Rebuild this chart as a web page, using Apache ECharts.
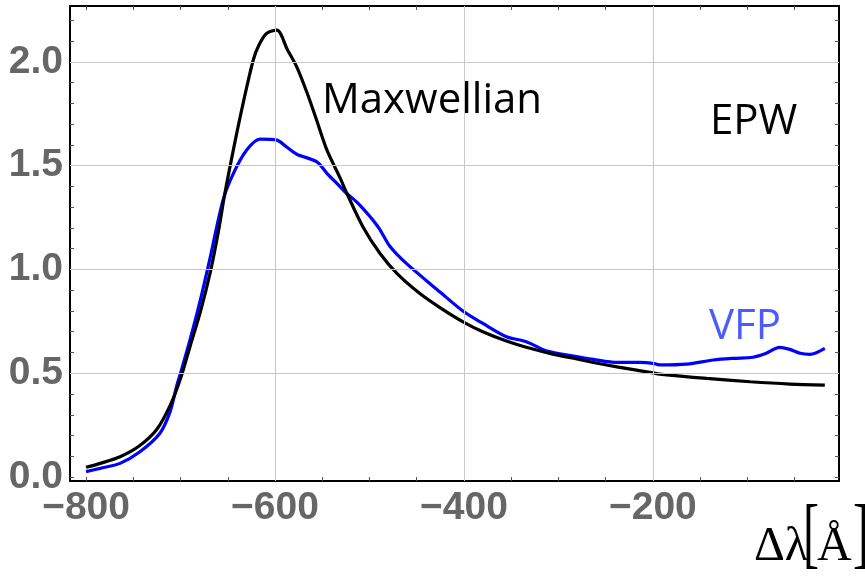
<!DOCTYPE html>
<html><head><meta charset="utf-8">
<script src="https://cdn.jsdelivr.net/npm/echarts@6/dist/echarts.min.js"></script>
<style>html,body{margin:0;padding:0;background:#fff}#c{width:865px;height:576px}</style>
</head><body><div id="c"></div>
<script>
// Data
var maxwellX = [-800,-785,-764,-743,-725,-711,-700,-690,-679,-668,-660,-653,-642,-633,-623,-617,-609,-598,-587,-577,-566,-556,-545,-531,-524,-507,-489,-471,-447,-425,-400,-380,-355,-334,-309,-284,-263,-238,-200,-193,-143,-97,-55,-18];
var maxwellY = [0.047,0.066,0.098,0.152,0.23,0.345,0.475,0.628,0.796,0.997,1.18,1.368,1.623,1.816,2.009,2.081,2.137,2.153,2.06,1.976,1.85,1.72,1.575,1.44,1.367,1.206,1.078,0.981,0.885,0.815,0.745,0.70,0.655,0.625,0.596,0.572,0.552,0.531,0.502,0.496,0.475,0.459,0.448,0.443];
var vfpX = [-800,-785,-764,-743,-722,-711,-704,-700,-690,-679,-669,-655,-644,-630,-616,-598,-588,-577,-556,-545,-531,-526,-512,-491,-478,-461,-425,-400,-380,-355,-334,-312,-284,-263,-238,-214,-200,-193,-164,-136,-115,-94,-80,-66,-55,-44,-34,-27,-18];
var vfpY = [0.026,0.042,0.066,0.122,0.21,0.315,0.44,0.50,0.66,0.853,1.05,1.334,1.463,1.575,1.628,1.623,1.591,1.555,1.519,1.463,1.398,1.374,1.318,1.206,1.109,1.029,0.89,0.796,0.74,0.676,0.652,0.607,0.583,0.567,0.552,0.552,0.548,0.54,0.544,0.564,0.572,0.577,0.596,0.625,0.615,0.596,0.591,0.599,0.62];
var xTickLabels = [-800,-600,-400,-200];
var yTickLabels = [0,0.5,1.0,1.5,2.0];
var xMinorTicks = [-800,-750,-700,-650,-600,-550,-500,-450,-400,-350,-300,-250,-200,-150,-100,-50];
var yMinorTicks = [0,0.1,0.2,0.3,0.4,0.5,0.6,0.7,0.8,0.9,1.0,1.1,1.2,1.3,1.4,1.5,1.6,1.7,1.8,1.9,2.0,2.1,2.2];
var xGrid = [-600,-400,-200];
var yGrid = [0.5,1.0,1.5,2.0];

function pairs(xs, ys){ return xs.map(function(x,i){return [x, ys[i]];}); }

var labelStyle = {fontFamily:'Liberation Sans', fontWeight:'bold', fontSize:39, color:'#666'};
var tickStyle = {show:true, inside:true, length:4, lineStyle:{color:'#555', width:1}};
var axisLine = {show:true, onZero:false, lineStyle:{color:'#000', width:2}};
var annot = {fontFamily:'Open Sans', fontSize:42, fill:'#000'};
var serif = {fontFamily:'Liberation Serif', fontSize:48, fill:'#000', align:'left', verticalAlign:'top'};

var chart = echarts.init(document.getElementById('c'), null, {renderer:'canvas'});
chart.setOption({
  animation:false,
  grid:{left:70, top:6, right:26, bottom:95, containLabel:false},
  xAxis:[
    {type:'value', min:-817, max:-3, position:'bottom', axisLine:axisLine,
     axisTick:Object.assign({customValues:xMinorTicks}, tickStyle),
     axisLabel:Object.assign({customValues:xTickLabels, margin:8,
       formatter:function(v){return String(v).replace('-','\u2212');}}, labelStyle),
     splitLine:{show:false}},
    {type:'value', min:-817, max:-3, position:'top', axisLine:axisLine,
     axisTick:Object.assign({customValues:xMinorTicks}, tickStyle),
     axisLabel:{show:false}, splitLine:{show:false}}
  ],
  yAxis:[
    {type:'value', min:-0.019, max:2.269, position:'left', axisLine:axisLine,
     axisTick:Object.assign({customValues:yMinorTicks}, tickStyle),
     axisLabel:Object.assign({customValues:yTickLabels, margin:7,
       formatter:function(v){return v.toFixed(1);}}, labelStyle),
     splitLine:{show:false}},
    {type:'value', min:-0.019, max:2.269, position:'right', axisLine:axisLine,
     axisTick:Object.assign({customValues:yMinorTicks}, tickStyle),
     axisLabel:{show:false}, splitLine:{show:false}}
  ],
  series:[
    {type:'line', name:'grid', data:[], xAxisIndex:0, yAxisIndex:0, z:1, silent:true,
     showSymbol:false, lineStyle:{opacity:0},
     markLine:{silent:true, symbol:['none','none'], label:{show:false}, animation:false,
       lineStyle:{color:'#c8c8c8', width:1, type:'solid'},
       emphasis:{disabled:true},
       data: xGrid.map(function(v){return {xAxis:v};}).concat(yGrid.map(function(v){return {yAxis:v};}))}},
    {type:'line', name:'Maxwellian', data:pairs(maxwellX, maxwellY), z:3, showSymbol:false,
     smooth:0.3, lineStyle:{color:'#000', width:3.2}},
    {type:'line', name:'VFP', data:pairs(vfpX, vfpY), z:2, showSymbol:false,
     smooth:0.3, lineStyle:{color:'#0000ff', width:3.2}}
  ],
  graphic:[
    {type:'text', left:322, top:80, style:Object.assign({text:'Maxwellian'}, annot)},
    {type:'text', left:710, top:101, style:Object.assign({text:'EPW'}, annot)},
    {type:'text', left:709, top:306, style:Object.assign({text:'VFP'}, annot, {fill:'#4a5bff'})},
    {type:'text', x:754, y:523, style:Object.assign({text:'\u0394\u03bb'}, serif)},
    {type:'text', x:803, y:499, scaleY:1.65, style:Object.assign({text:'['}, serif)},
    {type:'text', x:817, y:523, style:Object.assign({text:'\u00c5'}, serif)},
    {type:'text', x:853, y:499, scaleY:1.65, style:Object.assign({text:']'}, serif)}
  ]
});
</script></body></html>
